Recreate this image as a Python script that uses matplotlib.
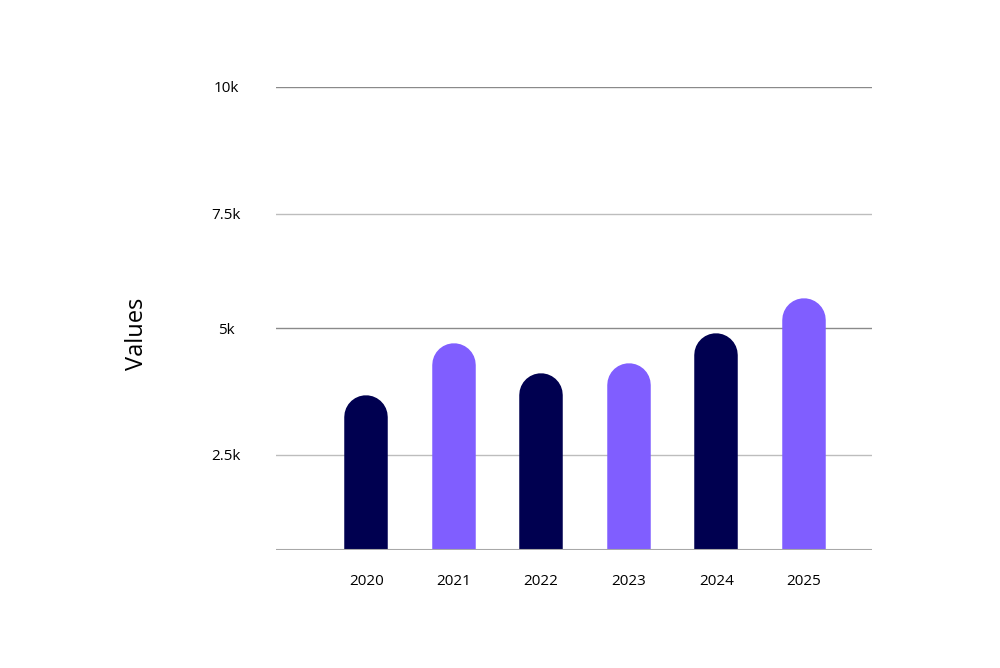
import numpy as np
import matplotlib
matplotlib.use("Agg")
import matplotlib.pyplot as plt
from matplotlib.transforms import offset_copy

years = ["2020", "2021", "2022", "2023", "2024", "2025"]
values = [3680, 4700, 4110, 4320, 4900, 5650]
bar_colors = ["#000050", "#805EFF", "#000050", "#805EFF", "#000050", "#805EFF"]
tick_values = [2500, 5000, 7500, 10000]
tick_labels = ["2.5k", "5k", "7.5k", "10k"]

# the gridlines in the source are not evenly spaced, so use a piecewise scale
knots = [0, 2500, 5000, 7500, 10000]
knot_pos = [0, 95, 221.7, 336.3, 463]

def fwd(v):
    return np.interp(v, knots, knot_pos)

def inv(p):
    return np.interp(p, knot_pos, knots)

plt.rcParams['font.family'] = ['Open Sans', 'DejaVu Sans']

fig = plt.figure(figsize=(10, 6.68), dpi=100)
ax = fig.add_axes([0.276, 118 / 668, 0.596, 463 / 668])
ax.set_yscale('function', functions=(fwd, inv))
ax.set_ylim(0, 10000)
ax.set_xlim(-1.03, 5.78)

# rounded-top bars: thick lines with round caps, shifted down by the cap radius
bar_w_pt = 43.5 * 72 / 100
trans = offset_copy(ax.transData, fig=fig, x=0, y=-bar_w_pt / 2, units='points')
x = np.arange(len(years))
for xi, v, c in zip(x, values, bar_colors):
    ax.plot([xi, xi], [0, v], color=c, linewidth=bar_w_pt,
            solid_capstyle='round', transform=trans, zorder=3)

grid_colors = ["#bdbdbd", "#8a8a8a", "#bdbdbd", "#8a8a8a"]
for t, gc in zip(tick_values, grid_colors):
    ax.axhline(t, color=gc, linewidth=1, zorder=1)
ax.axhline(0, color="#a8a8a8", linewidth=1.5, zorder=4)

for s in ax.spines.values():
    s.set_visible(False)

ax.set_yticks(tick_values)
ax.set_yticklabels(tick_labels, ha='center')
ax.set_xticks(x)
ax.set_xticklabels(years)
ax.tick_params(axis='y', length=0, pad=36, labelsize=11, labelcolor="#000000")
ax.tick_params(axis='x', length=0, pad=17.5, labelsize=11, labelcolor="#000000")
ax.minorticks_off()

ax.set_ylabel("Values", fontsize=17, color="#000000")
ax.yaxis.set_label_coords(-0.213, 0.467)

fig.savefig("out.png", dpi=100)
